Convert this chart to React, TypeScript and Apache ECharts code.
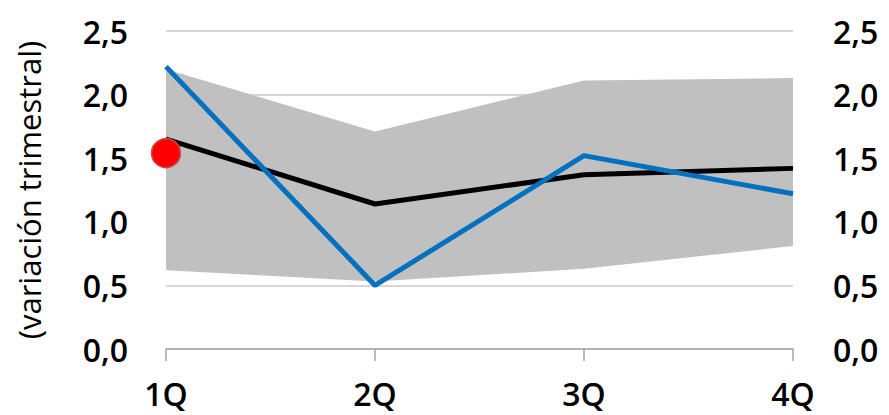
import React, { useEffect, useRef } from "react";
import * as echarts from "echarts";

const categories = ["1Q", "2Q", "3Q", "4Q"];
const centralValues = [1.65, 1.14, 1.37, 1.42];
const blueValues = [2.22, 0.5, 1.52, 1.22];
const bandUpper = [2.2, 1.71, 2.11, 2.13];
const bandLower = [0.62, 0.53, 0.63, 0.81];
const observedPoint = [1.54];
const yTicks = [0, 0.5, 1, 1.5, 2, 2.5];

const fmt = (v: number) => v.toFixed(1).replace(".", ",");

export default function App() {
  const ref = useRef<HTMLDivElement>(null);
  useEffect(() => {
    if (!ref.current) return;
    const chart = echarts.init(ref.current, undefined, { renderer: "svg" });
    const font = "'Open Sans', sans-serif";
    const yAxisBase = {
      type: "value",
      min: yTicks[0],
      max: yTicks[yTicks.length - 1],
      interval: 0.5,
      axisLine: { show: false },
      axisTick: { show: false },
    };
    const tickLabel = {
      color: "#000",
      fontFamily: font,
      fontSize: 32,
      fontWeight: 600,
      formatter: (v: number) => fmt(v),
    };
    chart.setOption({
      animation: false,
      grid: { left: 166, right: 96, top: 31, bottom: 66, containLabel: false },
      xAxis: {
        type: "category",
        data: categories,
        boundaryGap: false,
        axisLine: { show: true, lineStyle: { color: "#a6a6a6", width: 1.5 } },
        axisTick: { show: true, length: 12, alignWithLabel: true, lineStyle: { color: "#a6a6a6", width: 1.5 } },
        axisLabel: {
          color: "#000",
          fontFamily: font,
          fontSize: 32,
          fontWeight: 600,
          margin: 28,
        },
      },
      yAxis: [
        {
          ...yAxisBase,
          position: "left",
          name: "(variación trimestral)",
          nameLocation: "middle",
          nameGap: 122,
          nameRotate: 90,
          nameTextStyle: { color: "#000", fontFamily: font, fontSize: 31 },
          splitLine: { show: true, lineStyle: { color: "#c8c8c8", width: 1.5 } },
          axisLabel: { ...tickLabel, margin: 38 },
        },
        {
          ...yAxisBase,
          position: "right",
          splitLine: { show: false },
          axisLabel: { ...tickLabel, margin: 40 },
        },
      ],
      series: [
        {
          type: "line",
          stack: "band",
          data: bandLower,
          symbol: "none",
          lineStyle: { width: 0, opacity: 0 },
          areaStyle: { opacity: 0 },
          silent: true,
        },
        {
          type: "line",
          stack: "band",
          data: bandUpper.map((u, i) => +(u - bandLower[i]).toFixed(3)),
          symbol: "none",
          lineStyle: { width: 0, opacity: 0 },
          areaStyle: { color: "#c0c0c0", opacity: 1 },
          silent: true,
        },
        {
          type: "line",
          data: centralValues,
          symbol: "none",
          lineStyle: { color: "#000000", width: 5 },
          z: 3,
        },
        {
          type: "line",
          data: blueValues,
          symbol: "none",
          lineStyle: { color: "#0070c0", width: 5 },
          z: 4,
        },
        {
          type: "scatter",
          data: observedPoint.map((v, i) => [categories[i], v]),
          symbol: "circle",
          symbolSize: 29,
          itemStyle: { color: "#ff0000", opacity: 1, borderColor: "#c0504d", borderWidth: 1.5 },
          z: 5,
        },
      ],
    });
    return () => chart.dispose();
  }, []);
  return <div ref={ref} style={{ width: 889, height: 415, position: "absolute", left: 0, top: 0 }} />;
}
